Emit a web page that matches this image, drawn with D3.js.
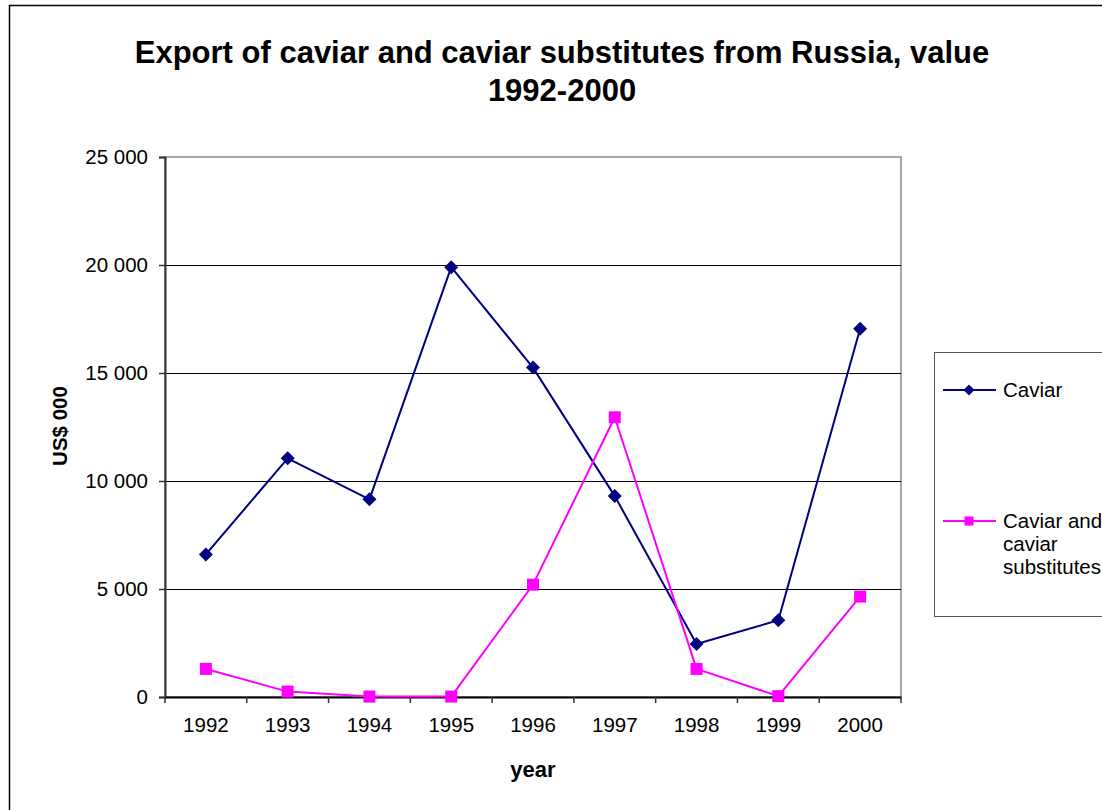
<!DOCTYPE html>
<html>
<head>
<meta charset="utf-8">
<script src="https://cdn.jsdelivr.net/npm/d3@7/dist/d3.min.js"></script>
<style>
  html, body { margin: 0; padding: 0; background: #fff; }
  svg { display: block; font-family: "Liberation Sans", Arial, sans-serif; }
</style>
</head>
<body>
<svg id="chart" width="1102" height="810"></svg>
<script>
// Export value of caviar from Russia, US$ thousand
const years = ["1992", "1993", "1994", "1995", "1996", "1997", "1998", "1999", "2000"];
const caviar = [6600, 11050, 9150, 19900, 15250, 9300, 2450, 3550, 17050];
const substitutes = [1300, 250, 20, 20, 5200, 12950, 1300, 40, 4650];
const yTicks = [0, 5000, 10000, 15000, 20000, 25000];
const seriesNames = ["Caviar", "Caviar and caviar substitutes"];

const svg = d3.select("#chart");
const W = 1102, H = 810;
const plot = { left: 165, right: 901, top: 157, bottom: 697 };

svg.append("rect").attr("width", W).attr("height", H).attr("fill", "#fff");
// chart frame (runs past the right and bottom edges)
svg.append("rect")
  .attr("x", 9.5).attr("y", 5.5).attr("width", 1200).attr("height", 900)
  .attr("fill", "none").attr("stroke", "#000").attr("stroke-width", 1.5);

const x = d3.scaleBand().domain(years).range([plot.left, plot.right]).padding(0);
const y = d3.scaleLinear().domain([0, 25000]).range([plot.bottom, plot.top]);
const xc = d => x(d) + x.bandwidth() / 2;

// plot area border
svg.append("rect")
  .attr("x", plot.left).attr("y", plot.top)
  .attr("width", plot.right - plot.left).attr("height", plot.bottom - plot.top)
  .attr("fill", "none").attr("stroke", "#8a8a8a").attr("stroke-width", 1.5);

// horizontal gridlines
svg.append("g").selectAll("line")
  .data(yTicks.filter(t => t > 0 && t < 25000))
  .join("line")
  .attr("x1", plot.left).attr("x2", plot.right)
  .attr("y1", d => Math.round(y(d)) + 0.5).attr("y2", d => Math.round(y(d)) + 0.5)
  .attr("stroke", "#000").attr("stroke-width", 1);

// y axis
const fmt = v => d3.format(",")(v).replace(/,/g, " ");
const yAxis = svg.append("g")
  .attr("transform", `translate(${plot.left},0)`)
  .call(d3.axisLeft(y).tickValues(yTicks).tickFormat(fmt).tickSize(6).tickPadding(11));
yAxis.select(".domain").attr("stroke", "#333").attr("stroke-width", 2);
yAxis.selectAll(".tick line").attr("stroke", "#333").attr("stroke-width", 1.5);
yAxis.selectAll("text").attr("font-size", 20.5).attr("fill", "#000")
  .attr("font-family", "'Liberation Sans', Arial, sans-serif");

// x axis: ticks between categories
const xAxis = svg.append("g")
  .attr("transform", `translate(0,${plot.bottom})`)
  .call(d3.axisBottom(x).tickSize(0).tickPadding(20));
xAxis.select(".domain").attr("stroke", "#000").attr("stroke-width", 2);
xAxis.selectAll("text").attr("font-size", 20.5).attr("fill", "#000")
  .attr("font-family", "'Liberation Sans', Arial, sans-serif");
const bounds = years.map(d => x(d)).concat([x(years[years.length - 1]) + x.bandwidth()]);
xAxis.append("g").selectAll("line").data(bounds).join("line")
  .attr("x1", d => d).attr("x2", d => d).attr("y1", 0).attr("y2", 6)
  .attr("stroke", "#333").attr("stroke-width", 1.5);

// markers
const diamond = (s) => `M0,${-s}L${s},0L0,${s}L${-s},0Z`;
const square = (s) => `M${-s},${-s}H${s}V${s}H${-s}Z`;

const series = [
  { name: seriesNames[0], values: caviar, color: "#000080", shape: diamond, size: 7 },
  { name: seriesNames[1], values: substitutes, color: "#ff00ff", shape: square, size: 6 }
];

const line = d3.line().x((d, i) => xc(years[i])).y(d => y(d));

series.forEach(s => {
  svg.append("path")
    .attr("d", line(s.values))
    .attr("fill", "none").attr("stroke", s.color).attr("stroke-width", 2)
    .attr("stroke-linejoin", "round");
  svg.append("g").selectAll("path").data(s.values).join("path")
    .attr("transform", (d, i) => `translate(${xc(years[i])},${y(d)})`)
    .attr("d", s.shape(s.size))
    .attr("fill", s.color);
});

// title
const title = svg.append("text")
  .attr("text-anchor", "middle").attr("font-size", 31).attr("font-weight", "bold").attr("fill", "#000");
title.append("tspan").attr("x", 562).attr("y", 63)
  .text("Export of caviar and caviar substitutes from Russia, value");
title.append("tspan").attr("x", 562).attr("y", 101).text("1992-2000");

// axis titles
svg.append("text")
  .attr("x", (plot.left + plot.right) / 2).attr("y", 777)
  .attr("text-anchor", "middle").attr("font-size", 22).attr("font-weight", "bold")
  .text("year");
svg.append("text")
  .attr("transform", "translate(67,426) rotate(-90)")
  .attr("text-anchor", "middle").attr("font-size", 20.5).attr("font-weight", "bold")
  .text("US$ 000");

// legend
const legend = svg.append("g");
legend.append("rect")
  .attr("x", 934.5).attr("y", 352.5).attr("width", 300).attr("height", 264)
  .attr("fill", "#fff").attr("stroke", "#555").attr("stroke-width", 1);

const legendRows = [
  { s: series[0], y: 390, lines: ["Caviar"] },
  { s: series[1], y: 521, lines: ["Caviar and", "caviar", "substitutes"] }
];
legendRows.forEach(r => {
  legend.append("line")
    .attr("x1", 943).attr("x2", 996).attr("y1", r.y).attr("y2", r.y)
    .attr("stroke", r.s.color).attr("stroke-width", 2);
  legend.append("path")
    .attr("transform", `translate(969,${r.y})`)
    .attr("d", r.s.shape(r.s.size - 1.5))
    .attr("fill", r.s.color);
  const t = legend.append("text").attr("font-size", 20.5).attr("fill", "#000");
  r.lines.forEach((ln, i) => {
    t.append("tspan").attr("x", 1003).attr("y", r.y + 7 + i * 23).text(ln);
  });
});
</script>
</body>
</html>
